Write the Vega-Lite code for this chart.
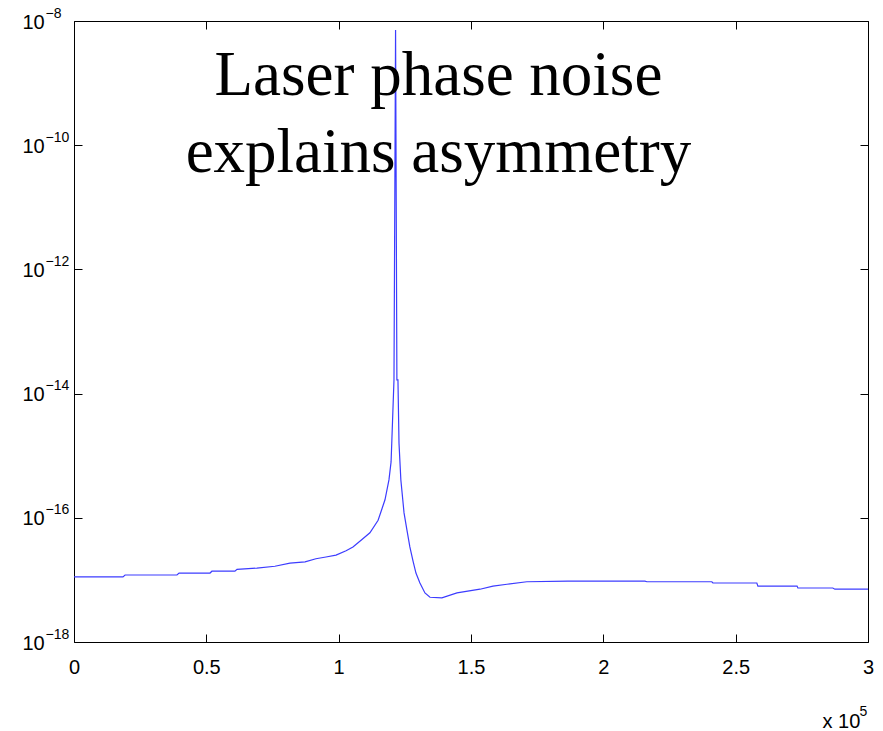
{
  "$schema": "https://vega.github.io/schema/vega-lite/v6.json",
  "width": 794,
  "height": 621,
  "autosize": "none",
  "padding": {"left": 74, "top": 21, "right": 15, "bottom": 89},
  "background": "white",
  "config": {
    "view": {"stroke": "black", "strokeWidth": 1},
    "axis": {
      "grid": false,
      "domain": false,
      "labelFont": "Liberation Sans",
      "titleFont": "Liberation Sans",
      "labelColor": "black",
      "titleColor": "black",
      "tickColor": "black",
      "labelFlush": false,
      "labelOverlap": false,
      "labelBound": false,
      "titleFontWeight": "normal"
    }
  },
  "datasets": {
    "spectrum": [
      {"f": 0, "s": 1.12e-17},
      {"f": 18500, "s": 1.12e-17},
      {"f": 19300, "s": 1.20e-17},
      {"f": 38900, "s": 1.20e-17},
      {"f": 39700, "s": 1.29e-17},
      {"f": 51400, "s": 1.29e-17},
      {"f": 52100, "s": 1.38e-17},
      {"f": 60800, "s": 1.38e-17},
      {"f": 61600, "s": 1.48e-17},
      {"f": 69100, "s": 1.55e-17},
      {"f": 75900, "s": 1.66e-17},
      {"f": 81600, "s": 1.86e-17},
      {"f": 87300, "s": 1.95e-17},
      {"f": 91400, "s": 2.19e-17},
      {"f": 95200, "s": 2.34e-17},
      {"f": 99000, "s": 2.51e-17},
      {"f": 102800, "s": 2.95e-17},
      {"f": 105400, "s": 3.39e-17},
      {"f": 108800, "s": 4.47e-17},
      {"f": 111800, "s": 5.75e-17},
      {"f": 114900, "s": 9.12e-17},
      {"f": 116400, "s": 1.41e-16},
      {"f": 117500, "s": 1.95e-16},
      {"f": 119000, "s": 4.07e-16},
      {"f": 119800, "s": 7.94e-16},
      {"f": 120100, "s": 1.78e-15},
      {"f": 120900, "s": 1.66e-14},
      {"f": 121500, "s": 7.16e-9},
      {"f": 122000, "s": 1.66e-14},
      {"f": 122400, "s": 1.66e-14},
      {"f": 122800, "s": 1.58e-15},
      {"f": 123500, "s": 4.07e-16},
      {"f": 124700, "s": 1.20e-16},
      {"f": 125800, "s": 6.31e-17},
      {"f": 126900, "s": 3.39e-17},
      {"f": 128100, "s": 2.00e-17},
      {"f": 129200, "s": 1.29e-17},
      {"f": 130700, "s": 8.91e-18},
      {"f": 132600, "s": 6.17e-18},
      {"f": 134500, "s": 5.25e-18},
      {"f": 139000, "s": 5.13e-18},
      {"f": 144700, "s": 6.17e-18},
      {"f": 153400, "s": 7.08e-18},
      {"f": 158300, "s": 7.94e-18},
      {"f": 163600, "s": 8.51e-18},
      {"f": 171100, "s": 9.33e-18},
      {"f": 186600, "s": 9.55e-18},
      {"f": 215700, "s": 9.55e-18},
      {"f": 216500, "s": 9.33e-18},
      {"f": 241000, "s": 9.33e-18},
      {"f": 241400, "s": 8.91e-18},
      {"f": 258000, "s": 8.91e-18},
      {"f": 258400, "s": 7.94e-18},
      {"f": 273200, "s": 7.94e-18},
      {"f": 273500, "s": 7.41e-18},
      {"f": 286700, "s": 7.41e-18},
      {"f": 287500, "s": 7.08e-18},
      {"f": 300000, "s": 7.08e-18}
    ],
    "caption": [
      {"f": 137700, "s": 6.46e-10, "line": "Laser phase noise"},
      {"f": 137700, "s": 3.72e-11, "line": "explains asymmetry"}
    ]
  },
  "resolve": {
    "scale": {"x": "shared", "y": "shared"},
    "axis": {"x": "independent", "y": "independent"}
  },
  "layer": [
    {
      "data": {"name": "spectrum"},
      "mark": {"type": "line", "stroke": "#3c3cff", "strokeWidth": 1.2},
      "encoding": {
        "x": {
          "field": "f", "type": "quantitative",
          "scale": {"domain": [0, 300000], "nice": false, "zero": false},
          "axis": {
            "orient": "bottom",
            "values": [0, 50000, 100000, 150000, 200000, 250000, 300000],
            "labelExpr": "format(datum.value / 100000, '~g')",
            "tickSize": -8, "labelPadding": 23, "labelFontSize": 20,
            "title": "x 10", "titleFontSize": 20,
            "titleAnchor": "start", "titleAlign": "left",
            "titleBaseline": "alphabetic", "titleX": 748, "titleY": 85
          }
        },
        "y": {
          "field": "s", "type": "quantitative",
          "scale": {"type": "log", "domain": [1e-18, 1e-8], "nice": false},
          "axis": {
            "orient": "left",
            "values": [1e-18, 1e-16, 1e-14, 1e-12, 1e-10, 1e-8],
            "labelExpr": "'10'",
            "tickSize": -8, "labelPadding": 60, "labelAlign": "left",
            "labelBaseline": "middle", "labelOffset": 1, "labelFontSize": 20,
            "title": null
          }
        }
      }
    },
    {
      "data": {"name": "spectrum"},
      "mark": {"type": "line", "opacity": 0},
      "encoding": {
        "x": {
          "field": "f", "type": "quantitative",
          "axis": {
            "orient": "bottom", "ticks": false, "labels": false,
            "title": "5", "titleFontSize": 14,
            "titleAnchor": "start", "titleAlign": "left",
            "titleBaseline": "alphabetic", "titleX": 785, "titleY": 73
          }
        },
        "y": {
          "field": "s", "type": "quantitative",
          "axis": {
            "orient": "left", "ticks": false,
            "values": [1e-18, 1e-16, 1e-14, 1e-12, 1e-10, 1e-8],
            "labelExpr": "'\u2212' + round(-log(datum.value) / LN10)",
            "labelPadding": 29, "labelAlign": "left",
            "labelBaseline": "middle", "labelOffset": -8, "labelFontSize": 14,
            "title": null
          }
        }
      }
    },
    {
      "data": {"name": "spectrum"},
      "mark": {"type": "line", "opacity": 0},
      "encoding": {
        "x": {
          "field": "f", "type": "quantitative",
          "axis": {
            "orient": "top", "labels": false, "tickSize": -8,
            "values": [0, 50000, 100000, 150000, 200000, 250000, 300000],
            "title": null
          }
        },
        "y": {
          "field": "s", "type": "quantitative",
          "axis": {
            "orient": "right", "labels": false, "tickSize": -8,
            "values": [1e-18, 1e-16, 1e-14, 1e-12, 1e-10, 1e-8],
            "title": null
          }
        }
      }
    },
    {
      "data": {"name": "caption"},
      "mark": {
        "type": "text", "font": "Liberation Serif", "fontSize": 63,
        "color": "black", "align": "center", "baseline": "alphabetic"
      },
      "encoding": {
        "x": {"field": "f", "type": "quantitative", "axis": null},
        "y": {"field": "s", "type": "quantitative", "axis": null},
        "text": {"field": "line"}
      }
    }
  ]
}
